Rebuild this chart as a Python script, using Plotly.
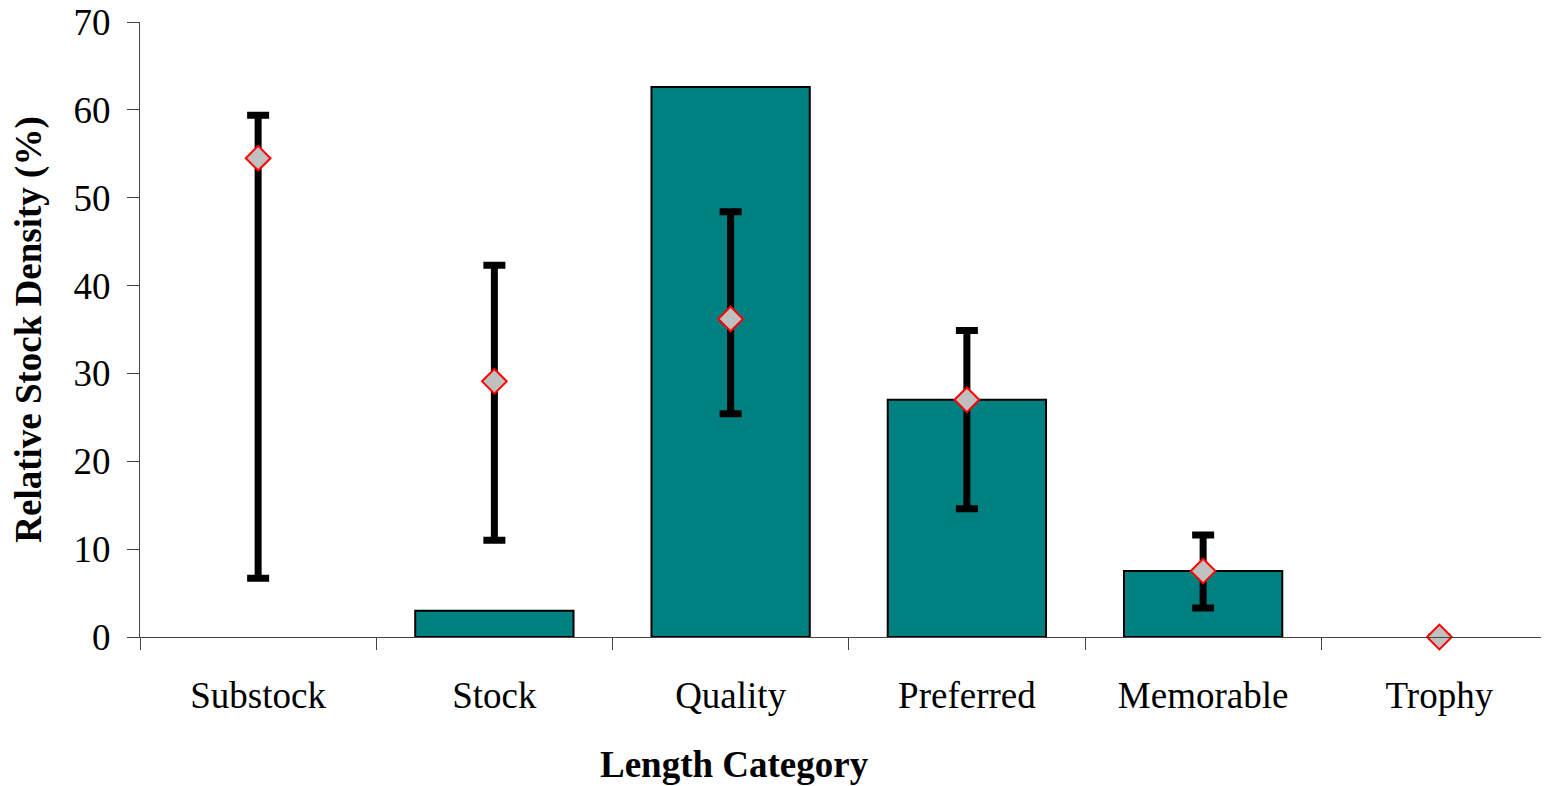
import plotly.graph_objects as go

categories = ["Substock", "Stock", "Quality", "Preferred", "Memorable", "Trophy"]
bar_values = [0, 3.0, 62.6, 27.0, 7.5, 0]
mean_values = [54.5, 29.1, 36.2, 27.0, 7.5, 0]
upper_bounds = [59.4, 42.3, 48.4, 34.9, 11.6, None]
lower_bounds = [6.7, 11.0, 25.4, 14.6, 3.3, None]

err_plus = [None if u is None else u - m for u, m in zip(upper_bounds, mean_values)]
err_minus = [None if l is None else m - l for l, m in zip(lower_bounds, mean_values)]
bar_outline = [0 if v == 0 else 2 for v in bar_values]

font_family = "Liberation Serif, Times New Roman, serif"
fs = 37

fig = go.Figure()
fig.add_trace(go.Bar(
    x=categories, y=bar_values, width=0.67,
    marker=dict(color="#008080", line=dict(color="black", width=bar_outline)),
    showlegend=False, hoverinfo="skip",
))
fig.add_trace(go.Scatter(
    x=categories, y=mean_values, mode="markers",
    marker=dict(symbol="diamond", size=19, color="#c0c0c0",
                line=dict(color="#ff0000", width=2)),
    error_y=dict(type="data", symmetric=False, array=err_plus, arrayminus=err_minus,
                 color="black", thickness=7, width=11),
    cliponaxis=False, showlegend=False,
))

fig.add_annotation(
    text="<b>Length Category</b>", xref="paper", yref="paper",
    x=0.422, y=-0.208, xanchor="center", yanchor="middle", showarrow=False,
    font=dict(size=fs, family=font_family, color="black"),
)

fig.update_layout(
    width=1541, height=778,
    margin=dict(l=132, r=0, t=14, b=149),
    plot_bgcolor="white", paper_bgcolor="white",
    font=dict(family=font_family, size=fs, color="black"),
)
fig.update_xaxes(
    type="category", range=[-0.5, 5.464],
    showline=True, linecolor="#444", linewidth=1,
    ticks="outside", tickson="boundaries", ticklen=12, tickcolor="#444",
    showgrid=False, zeroline=False,
    tickfont=dict(size=fs, family=font_family),
    ticklabelstandoff=26, ticklabeloverflow="allow",
    automargin=False,
)
fig.update_yaxes(
    range=[0, 70], dtick=10,
    showline=True, linecolor="#444", linewidth=1,
    ticks="outside", ticklen=12, tickcolor="#444",
    showgrid=False, zeroline=False,
    tickfont=dict(size=fs, family=font_family),
    ticklabelstandoff=9, ticklabeloverflow="allow",
    title=dict(text="<b>Relative Stock Density (%)</b>", font=dict(size=fs, family=font_family), standoff=20),
    automargin=False,
)

fig.write_html("out.html")
